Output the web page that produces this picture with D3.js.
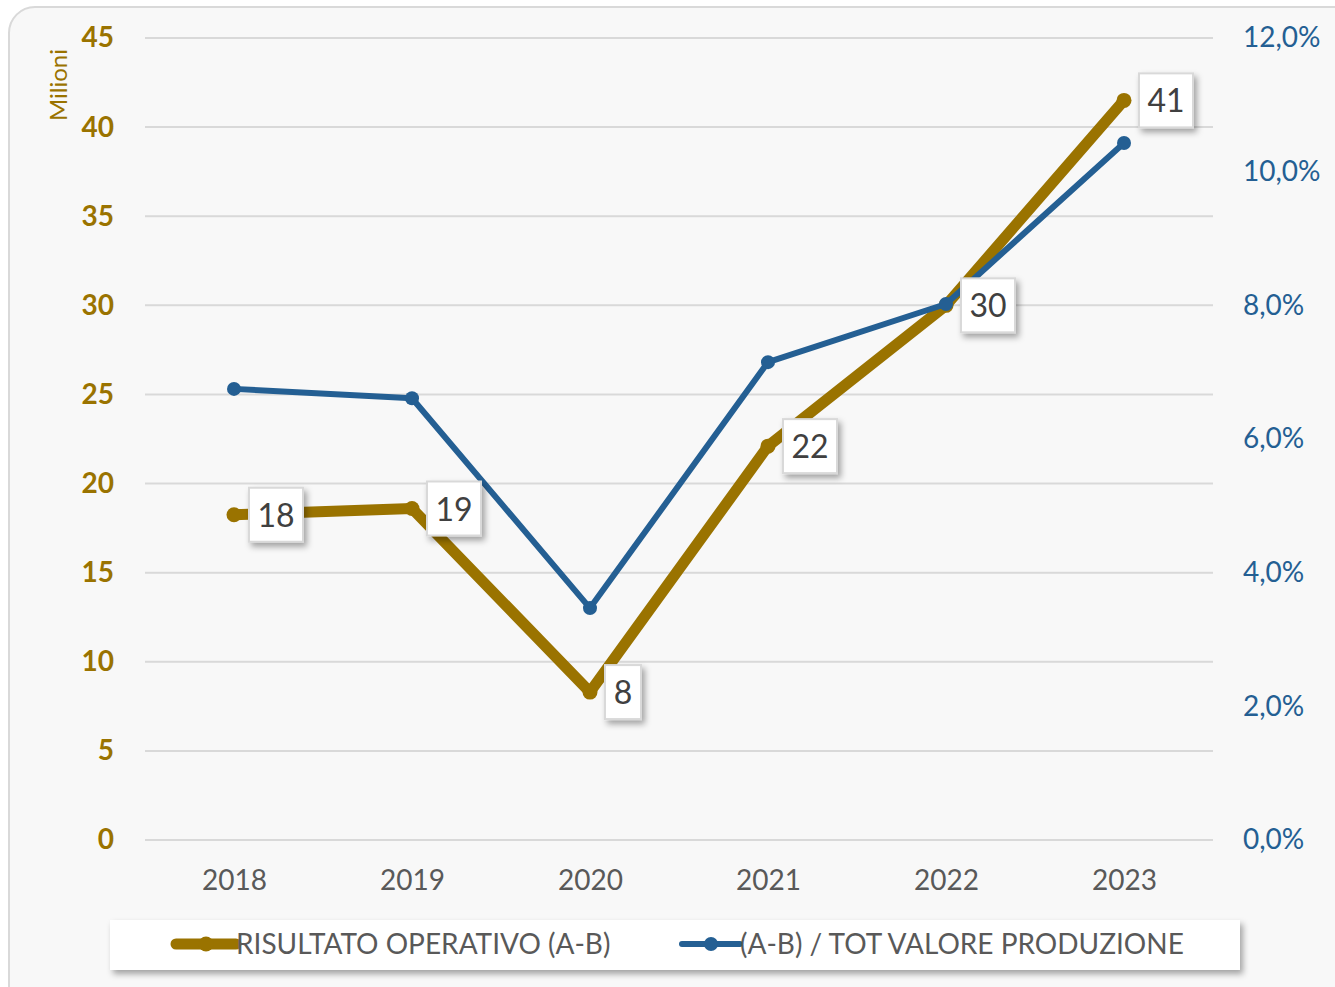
<!DOCTYPE html>
<meta charset="utf-8">
<script src="https://d3js.org/d3.v7.min.js"></script>
<style>
  body { margin: 0; background: #ffffff; }
  text { font-family: Lato, "Open Sans", sans-serif; }
</style>
<div id="chart"></div>
<script>
  // data
  const years = ["2018", "2019", "2020", "2021", "2022", "2023"];
  const risultato = [18.25, 18.6, 8.3, 22.1, 30.0, 41.5];       // milioni
  const ratio = [0.0675, 0.0661, 0.0347, 0.0715, 0.0802, 0.1043]; // (A-B)/tot
  const labels = ["18", "19", "8", "22", "30", "41"];
  const leftTicks = [0, 5, 10, 15, 20, 25, 30, 35, 40, 45];
  const rightTicks = [0, 0.02, 0.04, 0.06, 0.08, 0.10, 0.12];
  const seriesNames = ["RISULTATO OPERATIVO (A-B)", "(A-B) / TOT VALORE PRODUZIONE"];

  const gold = "#9a7300", blue = "#245f93";
  const W = 1335, H = 987;
  const margin = {top: 38, right: 122, bottom: 147, left: 145};
  const width = W - margin.left - margin.right,
        height = H - margin.top - margin.bottom;

  const root = d3.select("#chart").append("svg")
    .attr("width", W).attr("height", H);

  const defs = root.append("defs");
  const f = defs.append("filter").attr("id", "shadow")
    .attr("x", "-20%").attr("y", "-20%").attr("width", "150%").attr("height", "160%");
  f.append("feDropShadow").attr("dx", 3).attr("dy", 4).attr("stdDeviation", 3)
    .attr("flood-color", "#000").attr("flood-opacity", 0.35);

  // outer frame
  root.append("rect")
    .attr("x", 9).attr("y", 7).attr("width", W + 20).attr("height", H + 20)
    .attr("rx", 26).attr("fill", "#f8f8f8").attr("stroke", "#d9d9d9").attr("stroke-width", 2);

  const svg = root.append("g").attr("transform", `translate(${margin.left},${margin.top})`);

  const x = d3.scalePoint().domain(years).range([0, width]).padding(0.5);
  const y = d3.scaleLinear().domain([0, 45]).range([height, 0]);
  const y2 = d3.scaleLinear().domain([0, 0.12]).range([height, 0]);

  // gridlines
  svg.append("g").selectAll("line").data(leftTicks).join("line")
    .attr("x1", 0).attr("x2", width)
    .attr("y1", d => y(d)).attr("y2", d => y(d))
    .attr("stroke", "#d9d9d9").attr("stroke-width", 2);

  // left axis
  const yAxis = svg.append("g").call(d3.axisLeft(y).tickValues(leftTicks).tickSize(0).tickPadding(31));
  yAxis.select(".domain").remove();
  yAxis.selectAll("text").attr("fill", gold).attr("font-size", 28).attr("font-weight", "bold");

  // right axis
  const fmt = d => d3.format(".1f")(d * 100).replace(".", ",") + "%";
  const yAxis2 = svg.append("g").attr("transform", `translate(${width},0)`)
    .call(d3.axisRight(y2).tickValues(rightTicks).tickFormat(fmt).tickSize(0).tickPadding(30));
  yAxis2.select(".domain").remove();
  yAxis2.selectAll("text").attr("fill", blue).attr("font-size", 28);

  // x axis
  const xAxis = svg.append("g").attr("transform", `translate(0,${height})`)
    .call(d3.axisBottom(x).tickSize(0).tickPadding(30));
  xAxis.select(".domain").remove();
  xAxis.selectAll("text").attr("fill", "#595959").attr("font-size", 28);

  // unit label
  svg.append("text")
    .attr("transform", "rotate(-90)")
    .attr("x", -47).attr("y", -78)
    .attr("text-anchor", "middle")
    .attr("fill", gold).attr("font-size", 24)
    .text("Milioni");

  // gold line
  svg.append("path").datum(risultato)
    .attr("fill", "none").attr("stroke", gold).attr("stroke-width", 11)
    .attr("stroke-linejoin", "round").attr("stroke-linecap", "round")
    .attr("d", d3.line().x((d, i) => x(years[i])).y(d => y(d)));
  svg.append("g").selectAll("circle").data(risultato).join("circle")
    .attr("cx", (d, i) => x(years[i])).attr("cy", d => y(d)).attr("r", 7.5).attr("fill", gold);

  // blue line
  svg.append("path").datum(ratio)
    .attr("fill", "none").attr("stroke", blue).attr("stroke-width", 6)
    .attr("stroke-linejoin", "round")
    .attr("d", d3.line().x((d, i) => x(years[i])).y(d => y2(d)));
  svg.append("g").selectAll("circle").data(ratio).join("circle")
    .attr("cx", (d, i) => x(years[i])).attr("cy", d => y2(d)).attr("r", 7).attr("fill", blue);

  // data labels
  const lab = svg.append("g").selectAll("g").data(risultato).join("g")
    .attr("transform", (d, i) => `translate(${x(years[i]) + 15},${y(d)})`);
  lab.append("rect")
    .attr("x", 0).attr("y", -27)
    .attr("width", (d, i) => labels[i].length > 1 ? 54 : 36).attr("height", 54)
    .attr("fill", "#ffffff").attr("stroke", "#d9d9d9").attr("stroke-width", 2)
    .attr("filter", "url(#shadow)");
  lab.append("text")
    .attr("x", (d, i) => labels[i].length > 1 ? 27 : 18).attr("y", 12)
    .attr("text-anchor", "middle").attr("font-size", 32).attr("fill", "#404040")
    .text((d, i) => labels[i]);

  // legend
  const leg = root.append("g").attr("transform", "translate(110,920)");
  leg.append("rect").attr("width", 1130).attr("height", 50)
    .attr("fill", "#ffffff").attr("filter", "url(#shadow)");
  const items = [
    {name: seriesNames[0], color: gold, sw: 11, r: 7.5, x0: 66, x1: 126},
    {name: seriesNames[1], color: blue, sw: 6, r: 7, x0: 572, x1: 630}
  ];
  items.forEach(it => {
    leg.append("line").attr("x1", it.x0).attr("x2", it.x1).attr("y1", 24).attr("y2", 24)
      .attr("stroke", it.color).attr("stroke-width", it.sw).attr("stroke-linecap", "round");
    leg.append("circle").attr("cx", (it.x0 + it.x1) / 2).attr("cy", 24).attr("r", it.r).attr("fill", it.color);
    leg.append("text").attr("x", it.x1).attr("y", 34)
      .attr("font-size", 28).attr("fill", "#595959").text(it.name);
  });
</script>
